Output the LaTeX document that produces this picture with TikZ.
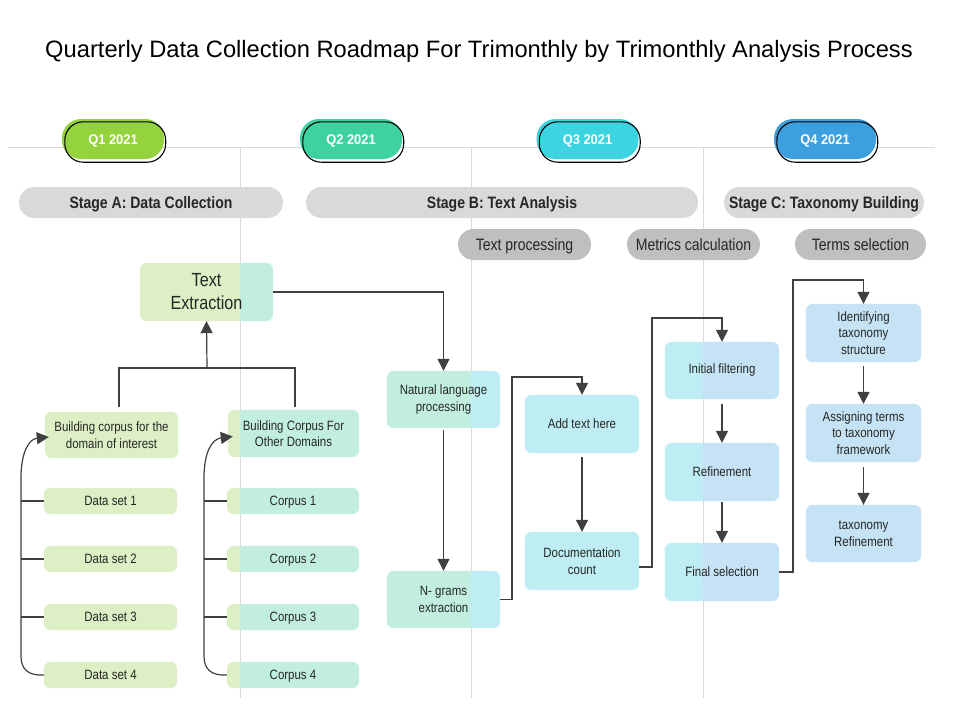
\documentclass[tikz,border=0pt]{standalone}
\usepackage{fontspec}
\setmainfont{Liberation Sans}[FakeStretch=0.85]
\newfontfamily\titlefont{Liberation Sans}
\newfontfamily\qfont{Liberation Sans}[FakeStretch=0.92]
\usetikzlibrary{arrows.meta}
\definecolor{qa}{HTML}{94D23E}
\definecolor{qb}{HTML}{3ED2A0}
\definecolor{qc}{HTML}{3BD4E0}
\definecolor{qd}{HTML}{3D9FDD}
\definecolor{stg}{HTML}{D9D9D9}
\definecolor{sub}{HTML}{BFBFBF}
\definecolor{gridc}{HTML}{DADADA}
\definecolor{cA}{HTML}{DDEFC4}
\definecolor{cB}{HTML}{C1EEDF}
\definecolor{cC}{HTML}{BEEDF3}
\definecolor{cD}{HTML}{C5E3F5}
\definecolor{lnc}{HTML}{404040}
\definecolor{txt}{HTML}{262626}
\pgfdeclarelayer{gridlayer}
\pgfdeclarelayer{fills}
\pgfsetlayers{gridlayer,fills,main}
\tikzset{
  qpill/.style={fill=#1, rounded corners=19pt, minimum width=102pt, minimum height=40pt, inner sep=0pt,
     text height=10pt, text depth=0pt,
     text=white, font=\qfont\bfseries\fontsize{14}{16}\selectfont},
  stagepill/.style={fill=stg, rounded corners=15.5pt, minimum height=31pt, inner sep=0pt,
     text height=12pt, text depth=0pt,
     text=txt, font=\bfseries\fontsize{16.5}{19}\selectfont},
  subpill/.style={fill=sub, rounded corners=15.5pt, minimum height=31pt, inner sep=0pt,
     text height=12pt, text depth=0pt,
     text=txt, font=\fontsize{16.5}{19}\selectfont},
  bx/.style={inner sep=0pt, align=center, text=txt, font=\fontsize{13.5}{16.5}\selectfont},
  ln/.style={draw=lnc, line width=1.2pt},
  arr/.style={ln, -{Triangle[width=12pt,length=12pt]}},
}
\begin{document}
\begin{tikzpicture}[x=1pt,y=-1pt]
\useasboundingbox (0,0) rectangle (960,720);
\begin{pgfonlayer}{gridlayer}
\fill[white] (0,0) rectangle (960,720);
\draw[gridc, line width=1pt] (8,147) -- (935,147);
\foreach \gx in {240,471,703} \draw[gridc, line width=1pt] (\gx,147) -- (\gx,698);
\end{pgfonlayer}

% title
\node[anchor=base, text=black, font=\titlefont\fontsize{23.7}{28}\selectfont] (title) at (479,57)
  {Quarterly Data Collection Roadmap For Trimonthly by Trimonthly Analysis Process};

% quarter pills
\foreach \nm/\cx/\cc/\tx in {q1/113/qa/Q1 2021, q2/351/qb/Q2 2021, q3/587.5/qc/Q3 2021, q4/825/qd/Q4 2021}{
  \node[qpill=\cc] (\nm) at (\cx,139) {\tx};
  \draw[black, line width=1.1pt, rounded corners=18.5pt]
     ([xshift=3pt,yshift=-3pt]\nm.south west) rectangle ([xshift=1.5pt,yshift=-3pt]\nm.north east);
}

% stage pills
\node[stagepill, minimum width=264pt] (sa) at (151,202.5) {Stage A: Data Collection};
\node[stagepill, minimum width=392pt] (sb) at (502,202.5) {Stage B: Text Analysis};
\node[stagepill, minimum width=200pt] (sc) at (824,202.5) {Stage C: Taxonomy Building};

\node[subpill, minimum width=133pt] (tp) at (524.5,244.5) {Text processing};
\node[subpill, minimum width=133pt] (mc) at (693.5,244.5) {Metrics calculation};
\node[subpill, minimum width=131pt] (ts) at (860.5,244.5) {Terms selection};

% boxes
\node[bx, minimum width=133pt, minimum height=58pt, font=\fontsize{19}{23}\selectfont] (te) at (206.5,292) {Text\\Extraction};
\node[bx, minimum width=133pt, minimum height=46pt] (bd) at (111.5,435) {Building corpus for the\\domain of interest};
\node[bx, minimum width=131pt, minimum height=47pt] (bo) at (293.5,433.5) {Building Corpus For\\Other Domains};
\foreach \i/\cy in {1/501,2/559,3/617,4/675}{
  \node[bx, minimum width=133pt, minimum height=26pt, text height=9.7pt, text depth=0pt] (d\i) at (110.5,\cy) {Data set \i};
  \node[bx, minimum width=132pt, minimum height=26pt, text height=9.7pt, text depth=0pt] (c\i) at (293,\cy) {Corpus \i};
}
\node[bx, minimum width=113pt, minimum height=57pt] (nlp) at (443.5,399.5) {Natural language\\processing};
\node[bx, minimum width=113pt, minimum height=57pt] (ng) at (443.5,599.5) {N- grams\\extraction};
\node[bx, minimum width=114pt, minimum height=58pt] (at) at (582,424) {Add text here};
\node[bx, minimum width=114pt, minimum height=58pt] (dc) at (582,561) {Documentation\\count};
\node[bx, minimum width=114pt, minimum height=57pt] (fil) at (722,370.5) {Initial filtering};
\node[bx, minimum width=114pt, minimum height=58pt] (rf) at (722,472) {Refinement};
\node[bx, minimum width=114pt, minimum height=58pt] (fs) at (722,572) {Final selection};
\node[bx, minimum width=115pt, minimum height=58pt] (id) at (863.5,333) {Identifying\\taxonomy\\structure};
\node[bx, minimum width=115pt, minimum height=58pt] (as) at (863.5,433) {Assigning terms\\to taxonomy\\framework};
\node[bx, minimum width=115pt, minimum height=57pt] (tr) at (863.5,533.5) {taxonomy\\Refinement};

% column-tinted fills
\begin{pgfonlayer}{fills}
\foreach \n in {te,bd,bo,d1,d2,d3,d4,c1,c2,c3,c4,nlp,ng,at,dc,fil,rf,fs,id,as,tr}{
  \foreach \xa/\xb/\cc in {0/240/cA,240/471/cB,471/703/cC,703/960/cD}{
    \begin{scope}
      \clip (\xa,0) rectangle (\xb,720);
      \fill[\cc, rounded corners=7pt] (\n.south west) rectangle (\n.north east);
    \end{scope}
  }
}
\end{pgfonlayer}

% left tree
\coordinate (ja) at (119,368);
\coordinate (jb) at (295,368);
\coordinate (jt) at (207,368);
\draw[ln] (ja |- 0,407) -- (ja) -- (jb) -- (jb |- 0,407);
\draw[arr] (jt) -- (te.south);

% brackets
\coordinate (bla) at (21,0);
\coordinate (blb) at (204,0);
\draw[arr] (d4.west) .. controls (27,676) and (21,668) .. (21,656) -- (21,478)
   .. controls (21,452) and (29,439) .. ([xshift=4pt,yshift=-2pt]bd.west);
\draw[arr] (c4.west) .. controls (210,676) and (204,668) .. (204,656) -- (204,478)
   .. controls (204,452) and (212,439) .. ([xshift=5pt,yshift=-3pt]bo.west);
\foreach \i in {1,2,3}{
  \draw[ln] (d\i.west -| bla) -- (d\i.west);
  \draw[ln] (c\i.west -| blb) -- (c\i.west);
}

% flow connectors
\coordinate (k1) at (512,377);
\coordinate (k2) at (652,318);
\coordinate (k3) at (793,280);
\draw[arr] (te.east) -| (nlp.north);
\draw[arr] ([yshift=-2pt]nlp.south) -- (ng.north);
\draw[arr] (ng.east) -| (k1) -| (at.north);
\draw[arr, shorten <=4pt] (at.south) -- (dc.north);
\draw[arr] ([yshift=-6pt]dc.east) -| (k2) -| (fil.north);
\draw[arr, shorten <=5pt] (fil.south) -- (rf.north);
\draw[arr, shorten <=1pt] (rf.south) -- (fs.north);
\draw[arr] (fs.east) -| (k3) -| (id.north);
\draw[arr, shorten <=4pt] (id.south) -- (as.north);
\draw[arr, shorten <=5pt] (as.south) -- (tr.north);
\end{tikzpicture}
\end{document}
